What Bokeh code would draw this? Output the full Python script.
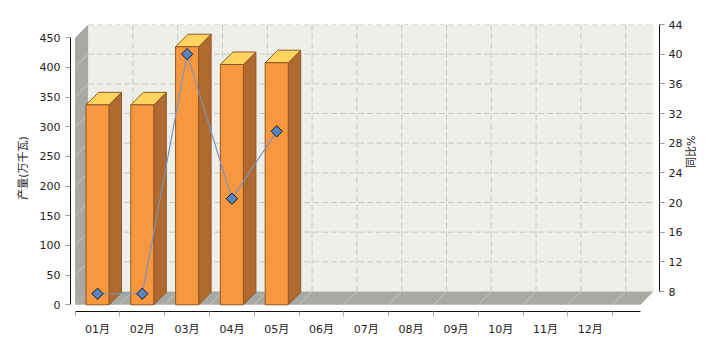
import math
from bokeh.plotting import figure
from bokeh.models import Range1d, LinearAxis, FixedTicker
from bokeh.embed import file_html
from bokeh.resources import INLINE

# ---- data ----
months = ["01月", "02月", "03月", "04月", "05月", "06月",
          "07月", "08月", "09月", "10月", "11月", "12月"]
output = [337, 337, 435, 405, 408]          # 产量 (万千瓦)
yoy = [7.7, 7.7, 40.0, 20.5, 29.6]          # 同比 %
left_ticks = [0, 50, 100, 150, 200, 250, 300, 350, 400, 450]
right_ticks = [8, 12, 16, 20, 24, 28, 32, 36, 40, 44]

# ---- 3D geometry (data units) ----
PX_X = 44.8                 # pixels per category
PX_Y = 267 / 450            # pixels per output unit
X_START, X_END = -0.6027, 12.545
Y_START, Y_END = -11.3, 472.4
DXW, DYW = 13 / PX_X, Y_END - 450      # wall depth
DXB, DYB = 12.5 / PX_X, 12.5 / PX_Y    # bar depth
HW = 0.257                              # half bar width
FLOOR_L, FLOOR_R = -0.5, 12.12
L_MIN, L_MAX = left_ticks[0], left_ticks[-1]
R_MIN, R_MAX = right_ticks[0], right_ticks[-1]

p = figure(frame_width=589, frame_height=287,
           min_border_left=70, min_border_right=61,
           min_border_top=24, min_border_bottom=29,
           x_range=Range1d(X_START, X_END), y_range=Range1d(Y_START, Y_END),
           output_backend="svg", toolbar_location=None,
           background_fill_color="white", border_fill_color="white")
p.outline_line_color = None
p.grid.visible = False
p.xaxis.visible = False
p.yaxis.visible = False

# secondary range aligned with the back wall: R_MIN at floor back, R_MAX at wall top
p.extra_y_ranges = {"pct": Range1d(R_MIN + (Y_START - DYW) * (R_MAX - R_MIN) / (L_MAX - L_MIN),
                                   R_MIN + (Y_END - DYW) * (R_MAX - R_MIN) / (L_MAX - L_MIN))}

wall = "#A8A9A3"
# back wall
p.quad(left=[FLOOR_L + DXW], right=[FLOOR_R + DXW], bottom=[DYW], top=[Y_END],
       fill_color="#EFEFE9", line_color=None)
# left wall
p.patch([FLOOR_L, FLOOR_L + DXW, FLOOR_L + DXW, FLOOR_L],
        [0, DYW, L_MAX + DYW, L_MAX], fill_color=wall, line_color=None)
# floor
p.patch([FLOOR_L, FLOOR_R, FLOOR_R + DXW, FLOOR_L + DXW],
        [0, 0, DYW, DYW], fill_color=wall, line_color=None)

# back wall grid
hy = [DYW + t for t in left_ticks[1:]]
p.segment(x0=[FLOOR_L + DXW] * len(hy), y0=hy, x1=[FLOOR_R + DXW] * len(hy), y1=hy,
          line_color="#C8C8C4", line_dash="6 3", line_width=1)
vx = [i + 0.5 + DXW for i in range(len(months))]
p.segment(x0=vx, y0=[DYW] * len(vx), x1=vx, y1=[Y_END] * len(vx),
          line_color="#C8C8C4", line_dash="6 3", line_width=1)
# faint depth lines on the left wall and floor
p.segment(x0=[FLOOR_L] * 8, y0=left_ticks[1:9], x1=[FLOOR_L + DXW] * 8,
          y1=[t + DYW for t in left_ticks[1:9]], line_color="white", line_alpha=0.35)
fx = [i + 0.5 for i in range(len(months))]
p.segment(x0=fx, y0=[0] * len(fx), x1=[x + DXW for x in fx], y1=[DYW] * len(fx),
          line_color="white", line_alpha=0.35)

# 3D bars
edge = "#8E5826"
for i, v in enumerate(output):
    L, R = i - HW, i + HW
    p.patch([R, R + DXB, R + DXB, R], [0, DYB, v + DYB, v],
            fill_color="#B06A30", line_color=edge, line_width=1)
    p.patch([L, L + DXB, R + DXB, R], [v, v + DYB, v + DYB, v],
            fill_color="#FFD460", line_color=edge, line_width=1)
    p.quad(left=[L], right=[R], bottom=[0], top=[v],
           fill_color="#F8973F", line_color=edge, line_width=1)

# 同比 line
lx = list(range(len(yoy)))
p.line(lx, yoy, y_range_name="pct", line_color="#7B93B8", line_width=1.2)
p.scatter(lx, yoy, y_range_name="pct", marker="square", angle=0.7854, size=8,
          fill_color="#5585C2", line_color="#1A1A1A", line_width=1)

font = "DejaVu Sans, Noto Sans CJK SC"

# left axis
ax_l = LinearAxis(bounds=(L_MIN, L_MAX), ticker=FixedTicker(ticks=left_ticks),
                  axis_label="产量(万千瓦)")
# right axis
ax_r = LinearAxis(y_range_name="pct", bounds=(R_MIN, R_MAX),
                  ticker=FixedTicker(ticks=right_ticks), axis_label="同比%")
for ax in (ax_l, ax_r):
    ax.major_tick_in = 0
    ax.major_tick_out = 5
    ax.minor_tick_line_color = None
    ax.axis_line_color = "#111111"
    ax.major_tick_line_color = "#999999"
    ax.major_label_text_font = font
    ax.major_label_text_font_size = "11px"
    ax.major_label_text_color = "#222222"
    ax.axis_label_text_font = font
    ax.axis_label_text_font_size = "11px"
    ax.axis_label_text_font_style = "normal"
    ax.axis_label_text_color = "#222222"
ax_l.major_label_standoff = 5
ax_l.axis_label_standoff = 7
ax_r.major_label_standoff = 4
ax_r.axis_label_standoff = 6
ax_r.axis_label_orientation = math.pi / 2
p.add_layout(ax_l, "left")
p.add_layout(ax_r, "right")

# category axis: labels at centres, ticks at boundaries
ax_b = LinearAxis(bounds=(FLOOR_L, FLOOR_R),
                  ticker=FixedTicker(ticks=list(range(len(months))),
                                     minor_ticks=[i - 0.5 for i in range(len(months) + 1)]),
                  major_label_overrides={i: m for i, m in enumerate(months)})
ax_b.major_tick_line_color = None
ax_b.major_tick_in = 0
ax_b.major_tick_out = 0
ax_b.minor_tick_in = 0
ax_b.minor_tick_out = 5
ax_b.minor_tick_line_color = "#AAAAAA"
ax_b.axis_line_color = "#111111"
ax_b.major_label_standoff = 6
ax_b.major_label_text_font = font
ax_b.major_label_text_font_size = "11px"
ax_b.major_label_text_color = "#222222"
p.add_layout(ax_b, "below")

open("out.html", "w").write(file_html(p, INLINE))
